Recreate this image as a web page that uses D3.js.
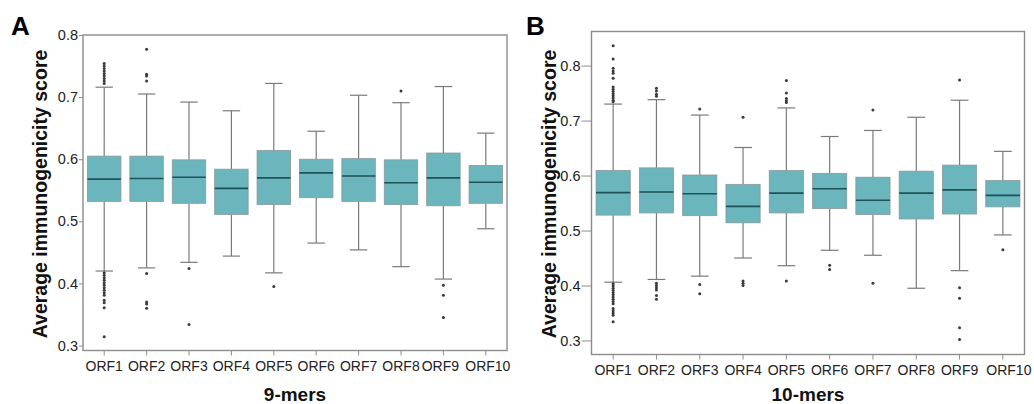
<!DOCTYPE html>
<html>
<head>
  <title>Average immunogenicity score boxplots</title>
  <style>
    body { margin: 0; background: #fff; font-family: "Liberation Sans", Arial, sans-serif; }
  </style>
</head>
<body>
  <svg id="chart" width="1034" height="404"></svg>

  <script src="https://d3js.org/d3.v7.min.js"></script>
  <script>
    // ORF categories (same for both panels)
    const orfs = ["ORF1", "ORF2", "ORF3", "ORF4", "ORF5", "ORF6", "ORF7", "ORF8", "ORF9", "ORF10"];
    const yTicks = [0.3, 0.4, 0.5, 0.6, 0.7, 0.8];

    // Panel A: 9-mers
    const lowA    = [0.420, 0.425, 0.434, 0.444, 0.417, 0.465, 0.454, 0.427, 0.407, 0.488];
    const q1A     = [0.532, 0.532, 0.529, 0.511, 0.527, 0.538, 0.532, 0.527, 0.525, 0.529];
    const medA    = [0.568, 0.569, 0.571, 0.553, 0.570, 0.578, 0.573, 0.562, 0.570, 0.563];
    const q3A     = [0.605, 0.605, 0.599, 0.584, 0.614, 0.600, 0.601, 0.599, 0.610, 0.590];
    const highA   = [0.716, 0.705, 0.692, 0.678, 0.722, 0.645, 0.703, 0.691, 0.717, 0.642];
    const outA = [
      [0.754, 0.750, 0.746, 0.742, 0.738, 0.734, 0.730, 0.726, 0.722,
       0.417, 0.413, 0.409, 0.405, 0.401, 0.397, 0.393, 0.389, 0.385, 0.381, 0.373, 0.369, 0.361, 0.314],
      [0.777, 0.737, 0.734, 0.726, 0.416, 0.370, 0.367, 0.360],
      [0.424, 0.334],
      [],
      [0.395],
      [],
      [],
      [0.710],
      [0.397, 0.381, 0.345],
      []
    ];

    // Panel B: 10-mers
    const lowB    = [0.406, 0.411, 0.417, 0.450, 0.436, 0.464, 0.455, 0.395, 0.427, 0.492];
    const q1B     = [0.528, 0.532, 0.527, 0.514, 0.532, 0.540, 0.529, 0.521, 0.530, 0.543];
    const medB    = [0.569, 0.570, 0.567, 0.544, 0.568, 0.576, 0.555, 0.568, 0.574, 0.564];
    const q3B     = [0.609, 0.614, 0.601, 0.584, 0.609, 0.604, 0.597, 0.608, 0.619, 0.591];
    const highB   = [0.730, 0.738, 0.710, 0.651, 0.723, 0.671, 0.682, 0.706, 0.737, 0.644];
    const outB = [
      [0.836, 0.812, 0.795, 0.790, 0.786, 0.777, 0.761, 0.757, 0.753, 0.749, 0.745, 0.741, 0.737, 0.734,
       0.403, 0.399, 0.395, 0.391, 0.387, 0.383, 0.379, 0.375, 0.371, 0.367, 0.358, 0.354, 0.350, 0.346, 0.334],
      [0.759, 0.754, 0.748, 0.744, 0.404, 0.400, 0.396, 0.392, 0.382, 0.375],
      [0.721, 0.402, 0.385],
      [0.706, 0.408, 0.404, 0.400],
      [0.773, 0.750, 0.740, 0.736, 0.733, 0.408],
      [0.437, 0.429],
      [0.719, 0.404],
      [],
      [0.774, 0.396, 0.377, 0.323, 0.302],
      [0.465]
    ];

    const svg = d3.select("#chart");
    const font = "'Liberation Sans', Arial, sans-serif";

    const panel = (opt) => {
      const { letter, letterX, left, right, top, bottom, yDomain, low, q1, med, q3, high, out,
              xTitle, yTitleX, tickGap, labelShift } = opt;

      const x = d3.scaleBand().domain(orfs).range([left, right]).paddingInner(0).paddingOuter(0);
      const y = d3.scaleLinear().domain(yDomain).range([bottom, top]);
      const g = svg.append("g");

      const stats = orfs.map((k, i) => ({ k, low: low[i], q1: q1[i], med: med[i], q3: q3[i], high: high[i], out: out[i] }));
      const bw = x.bandwidth() * 0.79;
      const cw = x.bandwidth() * 0.41;

      // frame
      g.append("rect")
        .attr("x", left).attr("y", top)
        .attr("width", right - left).attr("height", bottom - top)
        .attr("fill", "none").attr("stroke", "#8c8c8c").attr("stroke-width", 1.4);

      const box = g.selectAll("g.box").data(stats).join("g").attr("class", "box")
        .attr("transform", d => `translate(${x(d.k) + x.bandwidth() / 2},0)`);

      // whiskers
      box.append("line").attr("x1", 0).attr("x2", 0)
        .attr("y1", d => y(d.high)).attr("y2", d => y(d.q3))
        .attr("stroke", "#7a7a7a").attr("stroke-width", 1.2);
      box.append("line").attr("x1", 0).attr("x2", 0)
        .attr("y1", d => y(d.q1)).attr("y2", d => y(d.low))
        .attr("stroke", "#7a7a7a").attr("stroke-width", 1.2);
      box.append("line").attr("x1", -cw / 2).attr("x2", cw / 2)
        .attr("y1", d => y(d.high)).attr("y2", d => y(d.high))
        .attr("stroke", "#7a7a7a").attr("stroke-width", 1.2);
      box.append("line").attr("x1", -cw / 2).attr("x2", cw / 2)
        .attr("y1", d => y(d.low)).attr("y2", d => y(d.low))
        .attr("stroke", "#7a7a7a").attr("stroke-width", 1.2);

      // boxes
      box.append("rect")
        .attr("x", -bw / 2).attr("width", bw)
        .attr("y", d => y(d.q3)).attr("height", d => y(d.q1) - y(d.q3))
        .attr("fill", "#6bb5bd").attr("stroke", "#8a9a9c").attr("stroke-width", 0.8);
      box.append("line").attr("x1", -bw / 2).attr("x2", bw / 2)
        .attr("y1", d => y(d.med)).attr("y2", d => y(d.med))
        .attr("stroke", "#1f5257").attr("stroke-width", 1.6);

      // outliers
      box.selectAll("circle").data(d => d.out).join("circle")
        .attr("cx", 0).attr("cy", v => y(v)).attr("r", 1.5).attr("fill", "#3a3a3a");

      // y axis
      const ya = g.append("g").attr("transform", `translate(${left - tickGap},0)`)
        .call(d3.axisLeft(y).tickValues(yTicks).tickFormat(d3.format(".1f")).tickSize(4).tickSizeOuter(0));
      ya.select(".domain").remove();
      ya.selectAll(".tick line").attr("stroke", "#8c8c8c").attr("transform", `translate(${tickGap},0)`)
        .attr("x2", -4 - tickGap);
      ya.selectAll(".tick text").attr("x", -5).attr("font-size", 14.5)
        .attr("font-family", font).attr("fill", "#222");

      // x axis
      const xa = g.append("g").attr("transform", `translate(0,${bottom})`)
        .call(d3.axisBottom(x).tickSize(5).tickSizeOuter(0).tickPadding(6));
      xa.select(".domain").remove();
      xa.selectAll(".tick line").attr("stroke", "#8c8c8c");
      xa.selectAll(".tick text").attr("font-size", 14)
        .attr("dx", d => labelShift[d] || 0)
        .attr("font-family", font).attr("fill", "#222");

      // titles
      g.append("text").attr("x", (left + right) / 2).attr("y", 401)
        .attr("text-anchor", "middle").attr("font-size", 19).attr("font-weight", "bold")
        .attr("font-family", font).attr("fill", "#111").text(xTitle);
      g.append("text")
        .attr("transform", `translate(${yTitleX},194) rotate(-90)`)
        .attr("text-anchor", "middle").attr("font-size", 19.5).attr("font-weight", "bold")
        .attr("font-family", font).attr("fill", "#111").text("Average immunogenicity score");
      g.append("text").attr("x", letterX).attr("y", 35)
        .attr("font-size", 26).attr("font-weight", "bold")
        .attr("font-family", font).attr("fill", "#000").text(letter);
    };

    panel({
      letter: "A", letterX: 11, left: 83, right: 507, top: 35, bottom: 350.5,
      yDomain: [0.292, 0.8], low: lowA, q1: q1A, med: medA, q3: q3A, high: highA, out: outA,
      xTitle: "9-mers", yTitleX: 47, tickGap: 0, labelShift: { ORF9: -3, ORF10: 2 }
    });

    panel({
      letter: "B", letterX: 526, left: 591.5, right: 1024.5, top: 31.5, bottom: 354.5,
      yDomain: [0.2745, 0.862], low: lowB, q1: q1B, med: medB, q3: q3B, high: highB, out: outB,
      xTitle: "10-mers", yTitleX: 556, tickGap: 6, labelShift: { ORF10: 6 }
    });
  </script>
</body>
</html>
